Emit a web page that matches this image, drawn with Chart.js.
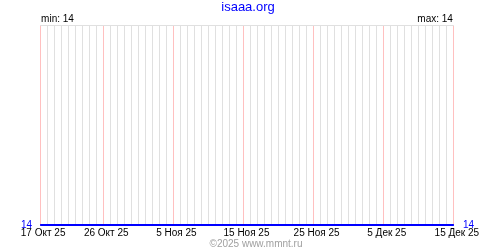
<!DOCTYPE html>
<html>
<head>
<meta charset="utf-8">
<script src="https://cdn.jsdelivr.net/npm/chart.js@4"></script>
<style>
  html, body { margin: 0; padding: 0; background: #fff; }
  #box { width: 500px; height: 250px; }
</style>
</head>
<body>
<div id="box"><canvas id="chart" width="500" height="250"></canvas></div>
<script>
// one category per day, 17 Oct 2025 .. 15 Dec 2025
const days = [
  "17 Окт 25", "18 Окт 25", "19 Окт 25", "20 Окт 25", "21 Окт 25", "22 Окт 25", "23 Окт 25", "24 Окт 25",
  "25 Окт 25", "26 Окт 25", "27 Окт 25", "28 Окт 25", "29 Окт 25", "30 Окт 25", "31 Окт 25",
  "1 Ноя 25", "2 Ноя 25", "3 Ноя 25", "4 Ноя 25", "5 Ноя 25", "6 Ноя 25", "7 Ноя 25", "8 Ноя 25",
  "9 Ноя 25", "10 Ноя 25", "11 Ноя 25", "12 Ноя 25", "13 Ноя 25", "14 Ноя 25", "15 Ноя 25",
  "16 Ноя 25", "17 Ноя 25", "18 Ноя 25", "19 Ноя 25", "20 Ноя 25", "21 Ноя 25", "22 Ноя 25",
  "23 Ноя 25", "24 Ноя 25", "25 Ноя 25", "26 Ноя 25", "27 Ноя 25", "28 Ноя 25", "29 Ноя 25", "30 Ноя 25",
  "1 Дек 25", "2 Дек 25", "3 Дек 25", "4 Дек 25", "5 Дек 25", "6 Дек 25", "7 Дек 25", "8 Дек 25",
  "9 Дек 25", "10 Дек 25", "11 Дек 25", "12 Дек 25", "13 Дек 25", "14 Дек 25", "15 Дек 25"
];

const values = [
  14, 14, 14, 14, 14, 14, 14, 14, 14, 14,
  14, 14, 14, 14, 14, 14, 14, 14, 14, 14,
  14, 14, 14, 14, 14, 14, 14, 14, 14, 14,
  14, 14, 14, 14, 14, 14, 14, 14, 14, 14,
  14, 14, 14, 14, 14, 14, 14, 14, 14, 14,
  14, 14, 14, 14, 14, 14, 14, 14, 14, 14
];

// labelled days (drawn with a pink grid line)
const tickLabels = ["17 Окт 25", "26 Окт 25", "5 Ноя 25", "15 Ноя 25", "25 Ноя 25", "5 Дек 25", "15 Дек 25"];
const yTicks = [14, 15];

const siteName = "isaaa.org";
const footerText = "©2025 www.mmnt.ru";

const FONT = "'Liberation Sans', Arial, sans-serif";
Chart.defaults.font.family = FONT;
Chart.defaults.font.size = 10;
Chart.defaults.color = "#000";

const minVal = Math.min(...values);
const maxVal = Math.max(...values);

// min / max captions and the copyright line
const extraText = {
  id: "extraText",
  afterDraw(chart) {
    const { ctx, chartArea } = chart;
    ctx.save();
    ctx.font = "10px " + FONT;
    ctx.fillStyle = "#000";
    ctx.textBaseline = "alphabetic";
    ctx.textAlign = "left";
    ctx.fillText("min: " + minVal, chartArea.left + 1, 22);
    ctx.textAlign = "right";
    ctx.fillText("max: " + maxVal, chartArea.right - 1, 22);
    ctx.fillStyle = "#a0a0a0";
    ctx.textAlign = "center";
    ctx.fillText(footerText, 256, 247);
    ctx.restore();
  }
};

const setTicks = scale => {
  scale.ticks = yTicks.map(v => ({ value: v }));
};

new Chart(document.getElementById("chart"), {
  type: "line",
  data: {
    labels: days,
    datasets: [{
      data: values,
      borderColor: "#0000ff",
      borderWidth: 2,
      pointRadius: 0,
      tension: 0,
      clip: false
    }]
  },
  options: {
    responsive: false,
    animation: false,
    layout: { padding: { left: 13, right: 17, top: 0, bottom: 9 } },
    plugins: {
      legend: { display: false },
      tooltip: { enabled: false },
      title: {
        display: true,
        text: siteName,
        color: "#0000ff",
        font: { size: 13, weight: "normal" },
        padding: { top: 0, bottom: 10 }
      }
    },
    scales: {
      x: {
        offset: false,
        border: { display: false },
        grid: {
          drawTicks: false,
          color: ctx => tickLabels.includes(days[ctx.index]) ? "#ffc0c0" : "#e0e0e0"
        },
        ticks: {
          autoSkip: false,
          maxRotation: 0,
          padding: 2,
          labelOffset: 3,
          callback: (v, i) => tickLabels.includes(days[i]) ? days[i] : ""
        }
      },
      y: {
        position: "left",
        min: 14,
        max: 15,
        afterBuildTicks: setTicks,
        border: { display: false },
        grid: {
          drawTicks: false,
          color: ctx => ctx.tick && ctx.tick.value === 15 ? "#e0e0e0" : "rgba(0,0,0,0)"
        },
        ticks: {
          color: "#0000ff",
          padding: 8,
          callback: v => v === 14 ? "14" : ""
        }
      },
      y2: {
        display: true,
        position: "right",
        min: 14,
        max: 15,
        afterBuildTicks: setTicks,
        border: { display: false },
        grid: { display: false, drawTicks: false },
        ticks: {
          color: "#0000ff",
          padding: 9,
          callback: v => v === 14 ? "14" : ""
        }
      }
    }
  },
  plugins: [extraText]
});
</script>
</body>
</html>
